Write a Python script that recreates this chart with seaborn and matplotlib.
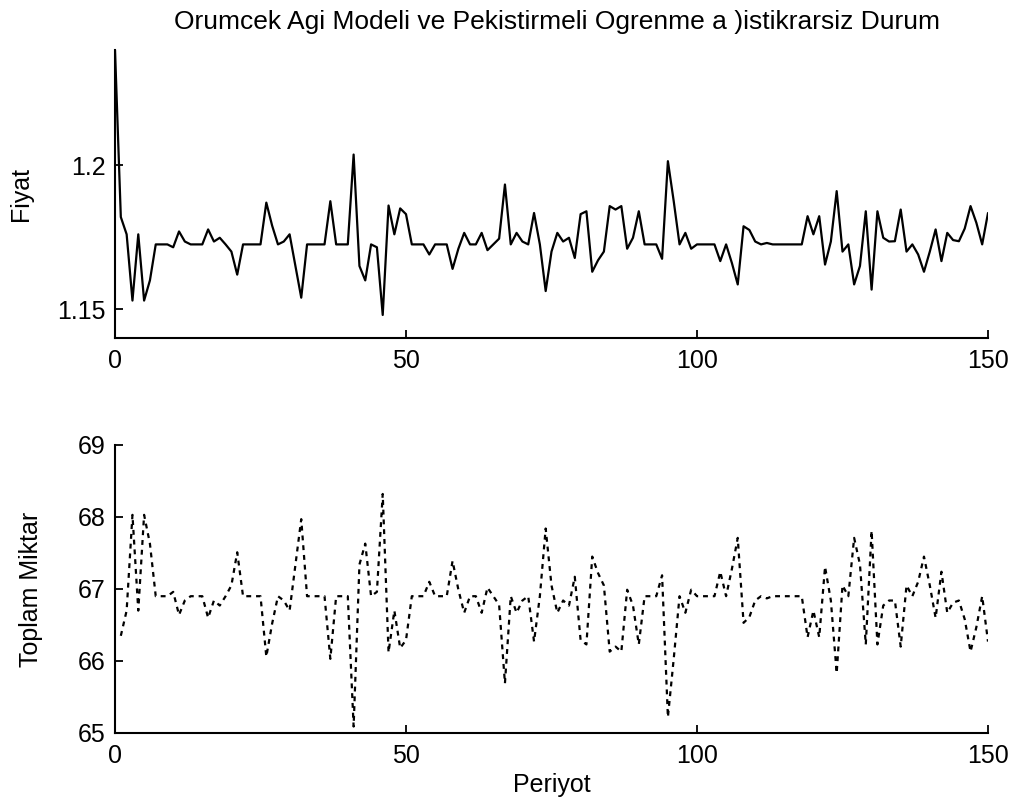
import pandas as pd
import seaborn as sns
import matplotlib.pyplot as plt

# Fiyat serisi (periyot 0..150)
periyot_fiyat = list(range(0, 151))
fiyat = [1.240, 1.182, 1.176, 1.153, 1.176, 1.153, 1.160, 1.1725, 1.1725, 1.1725,
         1.1715, 1.177, 1.1735, 1.1725, 1.1725, 1.1725, 1.1777, 1.1735, 1.1748, 1.1725,
         1.170, 1.162, 1.1725, 1.1725, 1.1725, 1.1725, 1.187, 1.179, 1.1725, 1.1735,
         1.176, 1.165, 1.154, 1.1725, 1.1725, 1.1725, 1.1725, 1.1875, 1.1725, 1.1725,
         1.1725, 1.2037, 1.165, 1.160, 1.1725, 1.1715, 1.148, 1.186, 1.176, 1.185,
         1.183, 1.1725, 1.1725, 1.1725, 1.169, 1.1725, 1.1725, 1.1725, 1.164, 1.171,
         1.1765, 1.1725, 1.1725, 1.1765, 1.1705, 1.1725, 1.1745, 1.1933, 1.1725, 1.1765,
         1.1735, 1.1725, 1.1834, 1.1725, 1.1563, 1.170, 1.1765, 1.1735, 1.1748, 1.1678,
         1.183, 1.184, 1.163, 1.167, 1.170, 1.1858, 1.1846, 1.1858, 1.171, 1.1748,
         1.184, 1.1725, 1.1725, 1.1725, 1.1675, 1.2014, 1.1875, 1.1725, 1.1765, 1.171,
         1.1725, 1.1725, 1.1725, 1.1725, 1.1667, 1.1725, 1.166, 1.1586, 1.1788, 1.1775,
         1.1735, 1.1725, 1.173, 1.1725, 1.1725, 1.1725, 1.1725, 1.1725, 1.1725, 1.1823,
         1.176, 1.1823, 1.1655, 1.1735, 1.191, 1.170, 1.1725, 1.1586, 1.165, 1.184,
         1.1568, 1.184, 1.1748, 1.1735, 1.1736, 1.1846, 1.170, 1.1725, 1.169, 1.163,
         1.170, 1.1777, 1.1667, 1.1765, 1.174, 1.1736, 1.178, 1.1858, 1.180, 1.1725,
         1.1834]

# Toplam miktar serisi (periyot 1..150)
periyot_miktar = list(range(1, 151))
miktar = [66.35, 66.70, 68.03, 66.70, 68.03, 67.63, 66.90, 66.90, 66.90, 66.96,
          66.64, 66.84, 66.90, 66.90, 66.90, 66.60, 66.84, 66.77, 66.90, 67.05,
          67.51, 66.90, 66.90, 66.90, 66.90, 66.06, 66.52, 66.90, 66.84, 66.70,
          67.34, 67.97, 66.90, 66.90, 66.90, 66.90, 66.03, 66.90, 66.90, 66.90,
          65.09, 67.34, 67.63, 66.90, 66.96, 68.32, 66.12, 66.70, 66.18, 66.29,
          66.90, 66.90, 66.90, 67.10, 66.90, 66.90, 66.90, 67.39, 66.99, 66.67,
          66.90, 66.90, 66.67, 67.02, 66.90, 66.78, 65.69, 66.90, 66.67, 66.84,
          66.90, 66.27, 66.90, 67.84, 67.05, 66.67, 66.84, 66.77, 67.17, 66.29,
          66.23, 67.45, 67.22, 67.05, 66.13, 66.20, 66.13, 66.99, 66.77, 66.23,
          66.90, 66.90, 66.90, 67.19, 65.22, 66.03, 66.90, 66.67, 66.99, 66.90,
          66.90, 66.90, 66.90, 67.24, 66.90, 67.28, 67.71, 66.53, 66.61, 66.84,
          66.90, 66.87, 66.90, 66.90, 66.90, 66.90, 66.90, 66.90, 66.33, 66.70,
          66.33, 67.31, 66.84, 65.83, 67.05, 66.90, 67.71, 67.34, 66.23, 67.81,
          66.23, 66.77, 66.84, 66.84, 66.20, 67.05, 66.90, 67.10, 67.45, 67.05,
          66.60, 67.24, 66.67, 66.81, 66.84, 66.58, 66.13, 66.47, 66.90, 66.27]

x_ticks = [0, 50, 100, 150]
fiyat_ticks = [1.15, 1.2]
fiyat_labels = ['1.15', '1.2']
miktar_ticks = [65, 66, 67, 68, 69]

sns.set_theme(style="ticks")
plt.rcParams['font.family'] = ['Liberation Sans', 'DejaVu Sans']
plt.rcParams['xtick.direction'] = 'in'
plt.rcParams['ytick.direction'] = 'in'

W, H = 1027, 807
fig = plt.figure(figsize=(W / 100, H / 100), dpi=100)
ax1 = fig.add_axes([115 / W, 1 - 338 / H, 873 / W, 288 / H])
ax2 = fig.add_axes([115 / W, 1 - 733 / H, 873 / W, 288 / H])

df_f = pd.DataFrame({'Periyot': periyot_fiyat, 'Fiyat': fiyat})
df_m = pd.DataFrame({'Periyot': periyot_miktar, 'Miktar': miktar})

sns.lineplot(data=df_f, x='Periyot', y='Fiyat', ax=ax1, color='black', linewidth=1.6)
sns.lineplot(data=df_m, x='Periyot', y='Miktar', ax=ax2, color='black', linewidth=1.6,
             linestyle=(0, (2.2, 2.2)))

fs = 18
for ax in (ax1, ax2):
    ax.set_xlim(0, 150)
    ax.set_xticks(x_ticks)
    ax.set_xticklabels([str(t) for t in x_ticks])
    sns.despine(ax=ax)
    for s in ('left', 'bottom'):
        ax.spines[s].set_linewidth(1.5)
        ax.spines[s].set_color('black')
    ax.tick_params(axis='both', length=6, width=1.3, color='black', labelsize=fs,
                   labelcolor='black')
    ax.tick_params(axis='x', pad=8)
    ax.tick_params(axis='y', pad=7)
    ax.set_facecolor('none')

ax1.set_ylim(1.14, 1.24)
ax1.set_yticks(fiyat_ticks)
ax1.set_yticklabels(fiyat_labels)
ax1.set_xlabel('')
ax1.set_ylabel('Fiyat', fontsize=fs, color='black')
ax1.yaxis.set_label_coords(-0.094, 0.5)

ax2.set_ylim(65, 69)
ax2.set_yticks(miktar_ticks)
ax2.set_yticklabels([str(t) for t in miktar_ticks])
ax2.set_xlabel('Periyot', fontsize=fs, color='black')
ax2.xaxis.set_label_coords(0.5, -0.14)
ax2.set_ylabel('Toplam Miktar', fontsize=fs, color='black')
ax2.yaxis.set_label_coords(-0.083, 0.5)

fig.text(557 / W, 1 - 22 / H, 'Orumcek Agi Modeli ve Pekistirmeli Ogrenme a )istikrarsiz Durum',
         ha='center', va='center', fontsize=19, color='black')

fig.savefig('out.png', dpi=100)
